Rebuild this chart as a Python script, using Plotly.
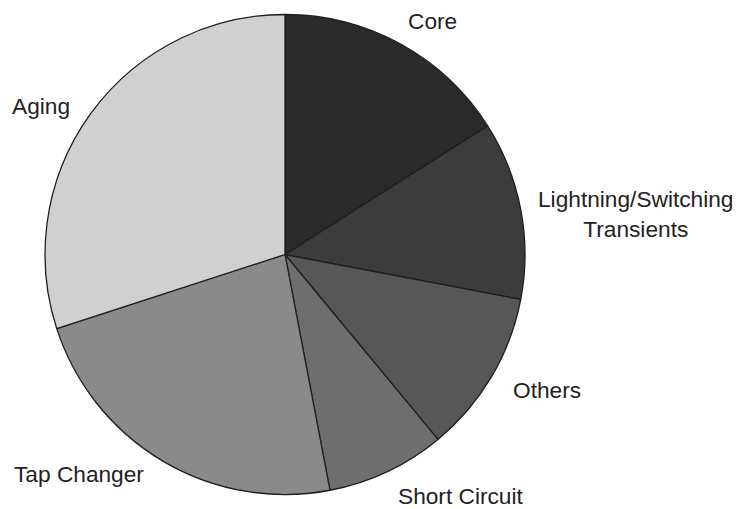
import plotly.graph_objects as go

# Causes of transformer failures (share in percent), clockwise from 12 o'clock
causes = ["Core", "Lightning/Switching<br>Transients", "Others", "Short Circuit",
          "Tap Changer", "Aging"]
shares = [16, 12, 11, 8, 23, 30]
greys = ["#2a2a2a", "#3c3c3c", "#575757", "#6e6e6e", "#8a8a8a", "#d0d0d0"]

W, H = 740, 509

# label centres in pixels (x from left, y from top)
label_px = [(432, 21), (636, 214), (547, 390), (461, 496), (79, 474), (41, 106)]

fig = go.Figure(go.Pie(
    labels=causes,
    values=shares,
    sort=False,
    direction="clockwise",
    rotation=0,
    textinfo="none",
    hoverinfo="label+percent",
    marker=dict(colors=greys, line=dict(color="#1e1e1e", width=1.3)),
    domain=dict(x=[45 / W, 525 / W], y=[1 - 495 / H, 1 - 14 / H]),
    showlegend=False,
))

for name, (px, py) in zip(causes, label_px):
    fig.add_annotation(
        text=name, x=px / W, y=1 - py / H, xref="paper", yref="paper",
        showarrow=False, xanchor="center", yanchor="middle",
        font=dict(family="Liberation Sans, Arial, sans-serif", size=22.7, color="#222222"),
    )

fig.update_layout(
    width=W, height=H,
    margin=dict(l=0, r=0, t=0, b=0),
    paper_bgcolor="white",
    plot_bgcolor="white",
)

fig.write_html("out.html")
